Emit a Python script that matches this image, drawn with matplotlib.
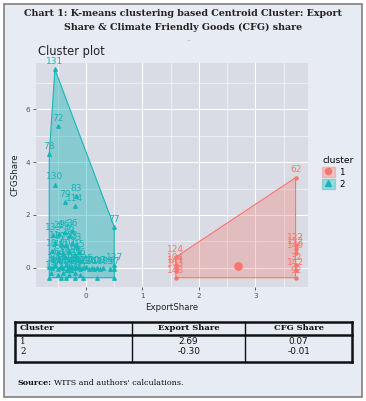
import numpy as np
import matplotlib
matplotlib.use("Agg")
import matplotlib.pyplot as plt
from matplotlib.patches import Rectangle, Polygon
from matplotlib.lines import Line2D

# cluster 1 points (ExportShare, CFGShare, id)
c1_x = [3.71, 3.71, 3.71, 3.71, 3.71, 3.71, 3.71, 1.59, 1.59, 1.59, 1.59, 1.59]
c1_y = [3.41, 0.87, 0.72, 0.55, 0.12, -0.08, -0.37, 0.41, 0.12, 0.0, -0.12, -0.37]
c1_lab = ["62", "122", "132", "149", "32", "142", "92", "124", "104", "141", "103", "148"]

# cluster 2 points
c2_x = [-0.55, -0.5, -0.65, -0.55, -0.37, -0.2, -0.18, 0.5, 0.5,
        -0.58, -0.48, -0.38, -0.3, -0.25, -0.55, -0.45, -0.35, -0.25, -0.18,
        -0.6, -0.5, -0.4, -0.3, -0.2, -0.12, -0.58, -0.48, -0.38, -0.28, -0.18, -0.1,
        -0.65, -0.6, -0.55, -0.5, -0.45, -0.4, -0.35, -0.3, -0.25, -0.2, -0.15, -0.1,
        -0.05, 0.0, 0.05, 0.1, 0.15, 0.2, 0.25, 0.3, 0.42, 0.5,
        -0.62, -0.5, -0.4, -0.3, -0.2, -0.1,
        -0.65, -0.45, -0.35, -0.2, -0.05, 0.2, 0.5]
c2_y = [7.5, 5.35, 4.3, 3.15, 2.5, 2.35, 2.7, 1.55, 0.1,
        1.25, 1.3, 1.35, 1.2, 1.4, 0.95, 0.9, 0.85, 0.95, 0.85,
        0.65, 0.6, 0.55, 0.65, 0.5, 0.6, 0.35, 0.3, 0.4, 0.3, 0.35, 0.3,
        0.05, 0.0, 0.1, -0.05, 0.05, 0.0, 0.1, -0.05, 0.05, 0.0, 0.05, -0.05,
        0.0, 0.05, -0.05, 0.0, -0.05, 0.0, -0.05, 0.0, -0.05, -0.05,
        -0.2, -0.25, -0.2, -0.25, -0.2, -0.25,
        -0.37, -0.37, -0.37, -0.37, -0.37, -0.37, -0.37]
c2_lab = ["131", "72", "78", "130", "79", "114", "83", "77", "137",
          "133", "21", "96", "46", "36", "11", "87", "29", "53", "43",
          "18", "74", "12", "101", "65", "15", "7", "64", "39", "90", "28", "56",
          "3", "5", "24", "31", "47", "58", "61", "69", "80", "92", "105", "110",
          "117", "125", "136", "140", "144", "108", "118", "2", "9", "97",
          "13", "22", "35", "41", "50", "60",
          "", "", "", "", "", "", ""]

# centroids
cent_x = [2.69, -0.30]
cent_y = [0.07, -0.01]

# hull vertices
hull1 = [(1.59, -0.37), (3.71, -0.37), (3.71, 3.41), (1.59, 0.41)]
hull2 = [(-0.55, 7.5), (-0.65, 4.3), (-0.65, -0.37), (0.5, -0.37), (0.5, 1.55)]

table_cols = ["Cluster", "Export Share", "CFG Share"]
table_rows = [["1", "2.69", "0.07"], ["2", "-0.30", "-0.01"]]

red = "#F8766D"
teal = "#16b5b9"
bg = "#e7ebf3"
panel = "#d9dce4"

fig = plt.figure(figsize=(3.66, 4.01), dpi=100)
fig.patch.set_facecolor("white")
fig.add_artist(Rectangle((4 / 366, 4 / 401), 358 / 366, 393 / 401, transform=fig.transFigure,
                         facecolor=bg, edgecolor="#808080", lw=1.2, zorder=-5))

fig.text(0.5, 1 - 14 / 401, "Chart 1: K-means clustering based Centroid Cluster: Export",
         ha="center", va="center", family="DejaVu Serif", weight="bold", fontsize=6.8, color="#222222")
fig.text(0.5, 1 - 27 / 401, "Share & Climate Friendly Goods (CFG) share",
         ha="center", va="center", family="DejaVu Serif", weight="bold", fontsize=6.8, color="#222222")
fig.text(188 / 366, 1 - 40 / 401, "\u2013", ha="center", va="center", fontsize=5, color="#aaaaaa")
fig.text(38 / 366, 1 - 51 / 401, "Cluster plot", ha="left", va="center", fontsize=8.3, color="#222222")

ax = fig.add_axes([36 / 366, 1 - 287 / 401, 272 / 366, 224 / 401])
ax.set_facecolor(panel)
ax.set_xlim(-0.885, 3.93)
ax.set_ylim(-0.72, 7.74)
ax.set_xticks([0, 1, 2, 3])
ax.set_yticks([0, 2, 4, 6])
ax.set_xticks(np.arange(-0.5, 4, 1), minor=True)
ax.set_yticks(np.arange(1, 8, 2), minor=True)
ax.grid(which="major", color="white", lw=0.8)
ax.grid(which="minor", color="white", lw=0.4)
ax.set_axisbelow(True)
for s in ax.spines.values():
    s.set_visible(False)
ax.tick_params(which="major", length=2.5, width=0.6, color="#444444", labelsize=5.2,
               labelcolor="#555555", pad=2)
ax.tick_params(which="minor", length=0)
ax.set_xlabel("ExportShare", fontsize=6.2, color="#222222", labelpad=3)
ax.set_ylabel("CFGShare", fontsize=6.2, color="#222222", labelpad=4)

ax.add_patch(Polygon(hull1, closed=True, facecolor=red, alpha=0.3, edgecolor="none"))
ax.add_patch(Polygon(hull1, closed=True, fill=False, edgecolor=red, lw=0.8))
ax.add_patch(Polygon(hull2, closed=True, facecolor=teal, alpha=0.42, edgecolor="none"))
ax.add_patch(Polygon(hull2, closed=True, fill=False, edgecolor=teal, lw=0.8))

ax.scatter(c1_x, c1_y, marker="o", s=5, color=red, zorder=3)
ax.scatter(c2_x, c2_y, marker="^", s=6, color=teal, zorder=3)
for x, y, t in zip(c1_x, c1_y, c1_lab):
    ax.text(x, y + 0.12, t, ha="center", va="bottom", fontsize=6.5, color=red, zorder=4)
for x, y, t in zip(c2_x, c2_y, c2_lab):
    ax.text(x, y + 0.12, t, ha="center", va="bottom", fontsize=6.5, color=teal, zorder=4)
ax.scatter(cent_x[:1], cent_y[:1], marker="o", s=28, color=red, zorder=4)
ax.scatter(cent_x[1:], cent_y[1:], marker="^", s=32, color=teal, zorder=4)

handles = [
    (Rectangle((0, 0), 1, 1, facecolor=red, alpha=0.35, edgecolor=red),
     Line2D([], [], marker="o", ls="", color=red, markersize=4.5)),
    (Rectangle((0, 0), 1, 1, facecolor=teal, alpha=0.35, edgecolor=teal),
     Line2D([], [], marker="^", ls="", color=teal, markersize=4.5)),
]
leg = fig.legend(handles, ["1", "2"], title="cluster", loc="upper left",
                 bbox_to_anchor=(316 / 366, 1 - 150 / 401), frameon=False, fontsize=6.2,
                 title_fontsize=6.6, handlelength=1.5, handleheight=1.5, labelspacing=0.2,
                 handletextpad=0.5, borderpad=0.2)
leg._legend_box.align = "left"

# table
def fx(px):
    return px / 366

def fy(py):
    return 1 - py / 401

L, R, T, H, B = 15, 352, 322, 335, 362
c1, c2 = 132, 245
for (x0, y0, x1, y1, w) in [(L, T, R, T, 1.8), (L, H, R, H, 1.8), (L, B, R, B, 1.8),
                             (L, T, L, B, 1.8), (R, T, R, B, 1.8),
                             (c1, T, c1, B, 1.0), (c2, T, c2, B, 1.0)]:
    fig.add_artist(Line2D([fx(x0), fx(x1)], [fy(y0), fy(y1)], color="#111111", lw=w))

hy = (T + H) / 2
fig.text(fx(20), fy(hy), table_cols[0], ha="left", va="center", family="DejaVu Serif",
         weight="bold", fontsize=6.0, color="#111111")
fig.text(fx((c1 + c2) / 2), fy(hy), table_cols[1], ha="center", va="center", family="DejaVu Serif",
         weight="bold", fontsize=6.0, color="#111111")
fig.text(fx((c2 + R) / 2), fy(hy), table_cols[2], ha="center", va="center", family="DejaVu Serif",
         weight="bold", fontsize=6.0, color="#111111")
for i, row in enumerate(table_rows):
    ry = 342 + i * 10
    fig.text(fx(20), fy(ry), row[0], ha="left", va="center", family="DejaVu Serif",
             fontsize=6.2, color="#111111")
    fig.text(fx((c1 + c2) / 2), fy(ry), row[1], ha="center", va="center", fontsize=6.4, color="#111111")
    fig.text(fx((c2 + R) / 2), fy(ry), row[2], ha="center", va="center", fontsize=6.4, color="#111111")

src = fig.text(fx(17), fy(383), "Source:", ha="left", va="center", family="DejaVu Serif",
               weight="bold", fontsize=5.8, color="#111111")
fig.canvas.draw()
bb = src.get_window_extent()
fig.text((bb.x1 + 3) / fig.bbox.width, fy(383), "WITS and authors' calculations.", ha="left",
         va="center", family="DejaVu Serif", fontsize=5.8, color="#111111")

fig.savefig("out.png", dpi=100, facecolor=fig.get_facecolor())
